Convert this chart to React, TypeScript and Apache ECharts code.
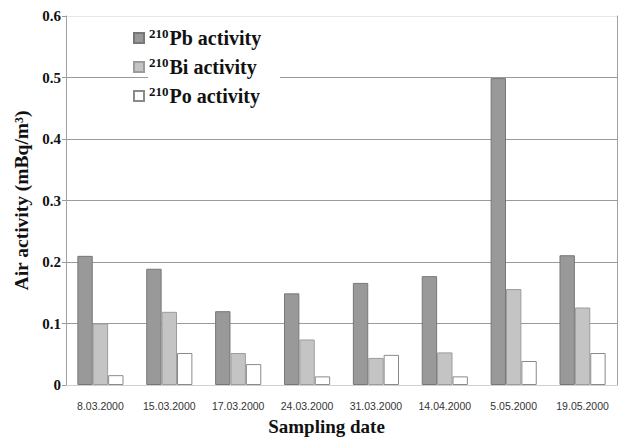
import React, { useEffect, useRef } from "react";
import * as echarts from "echarts";

const dates = [
  "8.03.2000",
  "15.03.2000",
  "17.03.2000",
  "24.03.2000",
  "31.03.2000",
  "14.04.2000",
  "5.05.2000",
  "19.05.2000",
];
const pb210 = [0.21, 0.189, 0.12, 0.149, 0.166, 0.177, 0.499, 0.211];
const bi210 = [0.1, 0.119, 0.052, 0.074, 0.044, 0.053, 0.156, 0.126];
const po210 = [0.016, 0.052, 0.034, 0.014, 0.049, 0.014, 0.039, 0.052];
const yTicks = [0, 0.1, 0.2, 0.3, 0.4, 0.5, 0.6];

const serif = "'Liberation Serif', 'DejaVu Serif', serif";
const sans = "'Liberation Sans', Arial, sans-serif";

export default function App() {
  const ref = useRef<HTMLDivElement>(null);

  useEffect(() => {
    document.body.style.margin = "0";
    const chart = echarts.init(ref.current!, null, { renderer: "svg" });
    const gridColors = yTicks.map((v, i) =>
      i === yTicks.length - 1 ? "#e8e8e8" : i === 0 ? "#dcdcdc" : "#9a9a9a"
    );
    const legendRich = {
      s: { fontFamily: serif, fontWeight: "bold", fontSize: 13, color: "#111", verticalAlign: "top", padding: [0, 1, 9, 0] },
      m: { fontFamily: serif, fontWeight: "bold", fontSize: 20, color: "#111" },
    };
    const tickLabel = { fontFamily: "Liberation Serif", fontWeight: "bold", fontSize: 15, color: "#111111" };
    chart.setOption({
      animation: false,
      backgroundColor: "#ffffff",
      grid: { left: 66, right: 8, top: 16, bottom: 54, outerBoundsMode: "none", containLabel: false },
      graphic: [
        {
          type: "rect",
          z: 5,
          shape: { x: 148, y: 22, width: 132, height: 92 },
          style: { fill: "#ffffff" },
        },
      ],
      legend: {
        z: 10,
        orient: "vertical",
        left: 128,
        top: 22,
        itemWidth: 10,
        itemHeight: 10,
        itemGap: 8,
        icon: "rect",
        data: ["Pb", "Bi", "Po"],
        formatter: (name: string) => `{s|210}{m|${name} activity}`,
        textStyle: { rich: legendRich },
      },
      xAxis: {
        type: "category",
        data: dates,
        name: "Sampling date",
        nameLocation: "middle",
        nameGap: 32,
        nameTextStyle: {
          fontFamily: serif,
          fontWeight: "bold",
          fontSize: 19,
          color: "#111",
          padding: [0, 30, 0, 0],
        },
        axisLine: { lineStyle: { color: "#d0d0d0" } },
        axisTick: { length: 4, lineStyle: { color: "#9a9a9a" } },
        axisLabel: { fontFamily: sans, fontSize: 10.5, color: "#333333", margin: 15 },
      },
      yAxis: [
        {
          type: "value",
          position: "left",
          min: 0,
          max: 0.6,
          interval: 0.1,
          name: "Air activity (mBq/m³)",
          nameLocation: "middle",
          nameGap: 15,
          nameTextStyle: { fontFamily: serif, fontWeight: "bold", fontSize: 19.5, color: "#111" },
          axisLine: { show: true, lineStyle: { color: "#a0a0a0" } },
          axisTick: { show: true, length: 4, lineStyle: { color: "#9a9a9a" } },
          axisLabel: {
            show: true,
            ...tickLabel,
            margin: 5,
            formatter: (v: number) => (v === 0 ? "0" : v.toFixed(1)),
          },
          splitLine: { lineStyle: { color: gridColors, width: 1 } },
        },
        {
          type: "value",
          position: "right",
          min: 0,
          max: 0.6,
          interval: 0.1,
          axisLine: { show: true, lineStyle: { color: "#a0a0a0" } },
          axisTick: { show: false },
          axisLabel: { show: false },
          splitLine: { show: false },
        },
      ],
      series: [
        {
          name: "Pb",
          type: "bar",
          yAxisIndex: 0,
          data: pb210,
          barGap: "0%",
          barCategoryGap: "33%",
          itemStyle: { color: "#999999", borderColor: "#777777", borderWidth: 1 },
        },
        {
          name: "Bi",
          type: "bar",
          yAxisIndex: 0,
          data: bi210,
          itemStyle: { color: "#c4c4c4", borderColor: "#9c9c9c", borderWidth: 1 },
        },
        {
          name: "Po",
          type: "bar",
          yAxisIndex: 0,
          data: po210,
          itemStyle: { color: "#ffffff", borderColor: "#8a8a8a", borderWidth: 1 },
        },
      ],
    });
    return () => chart.dispose();
  }, []);

  return <div ref={ref} style={{ width: 625, height: 439 }} />;
}
